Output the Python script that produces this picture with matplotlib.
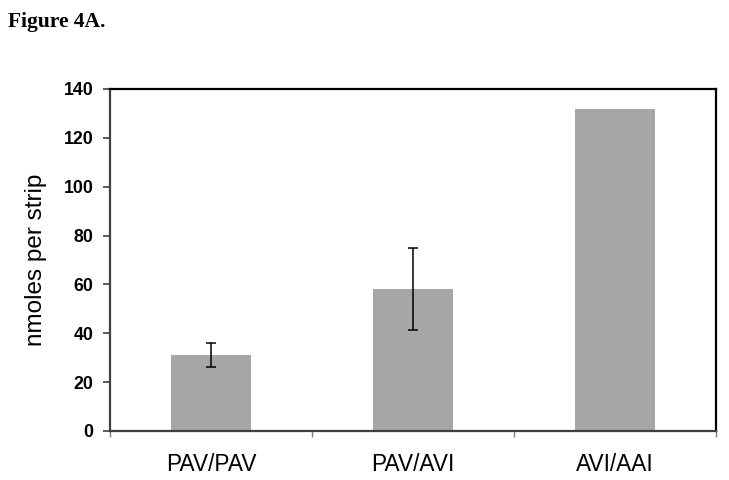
import matplotlib
matplotlib.use('Agg')
import matplotlib.pyplot as plt

categories = ['PAV/PAV', 'PAV/AVI', 'AVI/AAI']
values = [31, 58, 132]
errors = [5, 16.8, 0]

fig = plt.figure(figsize=(7.29, 4.8), dpi=100)
ax = fig.add_axes([0.1509, 0.1021, 0.8313, 0.7125])

x = list(range(len(categories)))
ax.bar(x, values, width=0.4, color='#a6a6a6', zorder=2)
# only the first two have error bars
ax.errorbar(x[:2], values[:2], yerr=errors[:2], fmt='none', ecolor='black',
            elinewidth=1.1, capsize=3.3, capthick=1.1, zorder=3)

ax.set_xlim(-0.5, 2.5)
ax.set_ylim(0, 140)
ax.set_yticks(range(0, 141, 20))
ax.set_xticks(x)
ax.set_xticklabels(categories, fontsize=16.3, family='Liberation Sans')
ax.set_xticks([-0.5, 0.5, 1.5, 2.5], minor=True)
ax.tick_params(axis='x', which='major', length=0, pad=16)
ax.tick_params(axis='x', which='minor', length=4, width=1, color='#808080')
ax.tick_params(axis='y', length=5, width=1.2, color='#404040', pad=7)
for lab in ax.get_yticklabels():
    lab.set_fontweight('bold')
    lab.set_fontsize(12.8)
    lab.set_family('Liberation Sans')

ax.set_ylabel('nmoles per strip', fontsize=17.5, family='Liberation Sans', labelpad=12)

for side in ['left', 'bottom']:
    ax.spines[side].set_color('#404040')
    ax.spines[side].set_linewidth(1.6)
for side in ['top', 'right']:
    ax.spines[side].set_color('black')
    ax.spines[side].set_linewidth(1.6)

fig.text(0.011, 0.955, 'Figure 4A.', fontsize=15.5, fontweight='bold',
         family='Liberation Serif', va='center', ha='left')

fig.savefig('out.png', dpi=100)
